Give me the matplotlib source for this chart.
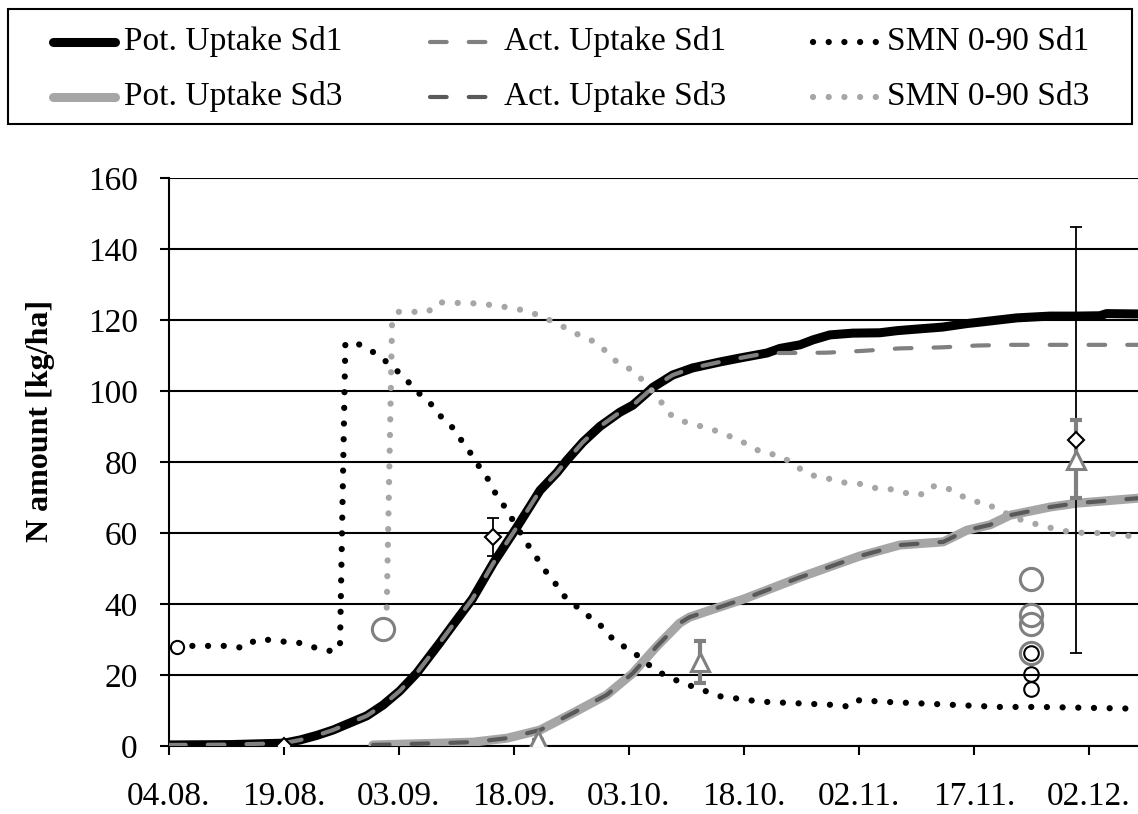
import matplotlib.pyplot as plt
from matplotlib.lines import Line2D
from matplotlib.patches import Rectangle

plt.rcParams['font.family'] = 'Liberation Serif'

W, H = 1138, 814

# x axis in days after 04.08.
tick_days = [0, 15, 30, 45, 60, 75, 90, 105, 120]
tick_labels = ['04.08.', '19.08.', '03.09.', '18.09.', '03.10.',
               '18.10.', '02.11.', '17.11.', '02.12.']
y_ticks = [0, 20, 40, 60, 80, 100, 120, 140, 160]

# potential uptake Sd1
pot1_day = [0, 8, 15, 17.1, 19.3, 21.4, 23.6, 25.8, 27.9, 30.1,
            32.3, 35.3, 37.0, 39.6, 42.3, 45.4, 48.4, 50.6, 51.9, 54.0,
            56.2, 58.8, 60.5, 62.3, 63.1, 65.7, 68.3, 71.9, 74.5, 78.0,
            79.7, 82.3, 84.0, 86.2, 89.2, 92.7, 95.0, 97.9, 100.9, 104.1,
            106.2, 110.6, 114.9, 118.4, 121.4, 122.3, 126.4]
pot1_val = [0.3, 0.4, 0.8, 1.7, 3.0, 4.5, 6.5, 8.5, 11.5, 15.5,
            20.5, 29, 34, 41.5, 51.5, 61.7, 72, 77, 80.5, 85.6,
            90, 94, 96, 99.4, 101, 104.5, 106.5, 108.2, 109.3, 110.7,
            112, 113, 114.4, 115.8, 116.3, 116.4, 117.0, 117.5, 118, 119,
            119.5, 120.6, 121.1, 121.1, 121.2, 121.8, 121.7]

# actual uptake Sd1 (same as potential until ~21.10.)
act1_day = pot1_day[:30] + [80.6, 85.8, 90.5, 95.3, 100.9, 105.3, 109.7, 126.4]
act1_val = pot1_val[:30] + [110.7, 110.8, 111.3, 112.0, 112.3, 112.8, 113.0, 113.0]

# potential / actual uptake Sd3 (lines coincide)
up3_day = [26.6, 35.3, 39.7, 44.1, 48.4, 52.7, 57.1, 60.5, 63.6, 66.6,
           67.9, 75.1, 82.3, 90.1, 95.3, 101.0, 104.1, 107.1, 109.7, 114.9,
           118.4, 126.4]
pot3_val = [0.3, 0.8, 1.1, 2.2, 4.5, 9.3, 14.4, 20.5, 28, 34.6,
            36.3, 41.5, 47.5, 53.5, 56.6, 57.5, 60.8, 62.3, 65, 67.3,
            68.4, 69.8]
act3_val = list(pot3_val)

# SMN 0-90 Sd1
smn1_day = [1.0, 2.9, 7.8, 9.8, 11.3, 13.3, 15.3, 17.2, 19.2, 21.0,
            22.3, 23.0, 24.0, 25.8, 27.4, 29.0, 30.4, 31.7, 33.1, 34.6,
            35.7, 37.2, 38.2, 39.4, 40.4, 41.6, 42.5, 43.6, 44.6, 46.7,
            47.7, 48.8, 50.1, 51.1, 52.6, 54.0, 55.6, 57.0, 58.2, 60.0,
            61.4, 62.9, 64.6, 66.4, 68.0, 71.9, 77.1, 82.3, 87.5, 88.8,
            90.1, 92.7, 98.0, 103.2, 108.4, 113.6, 126.4]
smn1_val = [28, 28.2, 28.2, 27.6, 29.9, 29.9, 29.3, 29, 27.6, 26.8,
            27.6, 113, 114, 112, 110, 107, 104.5, 101.4, 98.3, 95.5,
            92.1, 89.3, 85.9, 82.3, 78.9, 75.2, 71.5, 68, 64.5, 57,
            54, 50, 47, 43, 40.5, 37.5, 35.5, 32.4, 29.3, 27.3,
            25, 22.3, 20, 18.3, 17, 14, 12.5, 12, 11.5, 11,
            13, 12.5, 12, 11.5, 11, 11, 10.5]

# SMN 0-90 Sd3
smn3_day = [28.4, 29.1, 29.9, 31.8, 33.8, 35.1, 37.0, 38.9, 41.0, 42.8,
            44.7, 46.7, 48.5, 50.2, 52.0, 53.7, 55.6, 57.1, 58.4, 60.1,
            61.6, 62.9, 64.2, 65.3, 67.0, 68.7, 70.4, 72.3, 74.1, 75.8,
            77.5, 79.4, 81.1, 82.7, 84.5, 86.3, 88.3, 90.3, 92.1, 94.0,
            96.0, 98.0, 99.3, 101.2, 102.9, 104.7, 106.6, 108.1, 110.0, 111.8,
            113.6, 115.6, 117.5, 119.5, 121.4, 123.4, 125.2, 126.4]
smn3_val = [39, 119.4, 122.3, 122.3, 122.3, 125, 124.8, 124.8, 124.5, 124,
            123.4, 122.5, 121.1, 119.4, 117.5, 115.5, 113.8, 111, 108.2, 106.2,
            103.4, 100.3, 96.9, 93.5, 91.5, 90.4, 89.6, 87.9, 86.5, 84.5,
            82.5, 82, 80, 77.5, 75.8, 75.2, 74.1, 73.8, 72.7, 72.4,
            71.3, 70.7, 73.2, 73, 71, 69, 68.4, 66.5, 64.8, 63.1,
            62.3, 61.1, 60.3, 60, 60, 59.7, 59.2, 59]

# measured values
smn1_obs_day = [1.0, 112.4, 112.4, 112.4]
smn1_obs_val = [28, 26.3, 20.3, 16.1]
smn3_obs_day = [27.9, 112.4, 112.4, 112.4, 112.4]
smn3_obs_val = [33, 47, 37, 34.4, 26.2]
upt1_obs_day = [15.0, 42.3, 118.3]
upt1_obs_val = [0.0, 58.9, 86.2]
upt1_obs_lo = [0.0, 5.4, 60.0]
upt1_obs_hi = [0.0, 5.3, 60.0]
upt3_obs_day = [48.1, 69.3, 118.3]
upt3_obs_val = [1.7, 23.7, 80.6]
upt3_obs_lo = [0.0, 6.0, 10.7]
upt3_obs_hi = [0.0, 5.8, 11.2]

fig = plt.figure(figsize=(W / 100, H / 100), dpi=100)
ax = fig.add_axes([169 / W, 68 / H, (W - 169) / W, (746 - 178) / H])

dot = (0, (0.01, 2.5))
dash = (0, (4, 5.3))

ax.plot(pot1_day, pot1_val, color='black', lw=6.5, solid_capstyle='round',
        solid_joinstyle='round', zorder=3)
ax.plot(act1_day, act1_val, color='#808080', lw=3, ls=dash,
        dash_capstyle='round', zorder=3.1)
ax.plot(up3_day, pot3_val, color='#a6a6a6', lw=6.5, solid_capstyle='round',
        solid_joinstyle='round', zorder=3.2)
ax.plot(up3_day, act3_val, color='#595959', lw=3, ls=dash,
        dash_capstyle='round', zorder=3.3)
ax.plot(smn1_day, smn1_val, color='black', lw=4.5, ls=dot,
        dash_capstyle='round', zorder=3.4)
ax.plot(smn3_day, smn3_val, color='#a6a6a6', lw=4.5, ls=dot,
        dash_capstyle='round', zorder=3.5)

# observations
ax.plot(smn1_obs_day[:1], smn1_obs_val[:1], 'o', ms=9.5, mfc='white',
        mec='black', mew=1.5, zorder=6)
ax.plot(smn1_obs_day[1:], smn1_obs_val[1:], 'o', ms=10.5, mfc='none',
        mec='black', mew=1.5, zorder=6)
ax.plot(smn3_obs_day[:1], smn3_obs_val[:1], 'o', ms=16, mfc='white',
        mec='#808080', mew=2.2, zorder=6)
ax.plot(smn3_obs_day[1:], smn3_obs_val[1:], 'o', ms=16, mfc='none',
        mec='#808080', mew=2.2, zorder=6.1)

ax.errorbar(upt1_obs_day, upt1_obs_val, yerr=[upt1_obs_lo, upt1_obs_hi],
            fmt='none', ecolor='black', elinewidth=1.3, capsize=4.5,
            capthick=1.3, zorder=5)
ax.errorbar(upt3_obs_day, upt3_obs_val, yerr=[upt3_obs_lo, upt3_obs_hi],
            fmt='none', ecolor='#808080', elinewidth=3, capsize=4,
            capthick=3, zorder=5.5)
ax.plot(upt3_obs_day, upt3_obs_val, '^', ms=13, mfc='white', mec='#808080',
        mew=2.2, zorder=6.5)
ax.plot(upt1_obs_day, upt1_obs_val, 'D', ms=8, mfc='white', mec='black',
        mew=1.5, zorder=7)

# axes styling
ax.set_xlim(0, 126.4)
ax.set_ylim(0, 160)
ax.set_xticks(tick_days)
ax.set_xticklabels(tick_labels)
ax.set_yticks(y_ticks)
ax.yaxis.grid(True, color='black', lw=1.5)
ax.set_axisbelow(True)
for s in ['top', 'right']:
    ax.spines[s].set_visible(False)
for s in ['left', 'bottom']:
    ax.spines[s].set_linewidth(1.5)
    ax.spines[s].set_zorder(2.5)
ax.tick_params(axis='x', direction='out', length=6.5, width=1.5, pad=19,
               labelsize=24)
ax.tick_params(axis='y', direction='out', length=6.5, width=1.5, pad=16,
               labelsize=24)
ax.set_ylabel('N amount [kg/ha]', fontsize=23, fontweight='bold')
ax.yaxis.set_label_coords((55 - 169) / (W - 169), (746 - 421) / (746 - 178))


# legend drawn in figure pixels
def fx(x):
    return x / W


def fy(y):
    return 1 - y / H


fig.add_artist(Rectangle((fx(8), fy(124)), fx(1132) - fx(8), fy(9) - fy(124),
                         transform=fig.transFigure, fill=False, lw=1.5,
                         ec='black'))

entries = [
    (dict(color='black', lw=6.5, solid_capstyle='round'), 'Pot. Uptake Sd1', 53, 115, 124, 0),
    (dict(color='#808080', lw=3, ls=dash, dash_capstyle='round'), 'Act. Uptake Sd1', 430, 486, 504, 0),
    (dict(color='black', lw=4.5, ls=dot, dash_capstyle='round'), 'SMN 0-90 Sd1', 813, 878, 887, 0),
    (dict(color='#a6a6a6', lw=6.5, solid_capstyle='round'), 'Pot. Uptake Sd3', 53, 115, 124, 1),
    (dict(color='#595959', lw=3, ls=dash, dash_capstyle='round'), 'Act. Uptake Sd3', 430, 486, 504, 1),
    (dict(color='#a6a6a6', lw=4.5, ls=dot, dash_capstyle='round'), 'SMN 0-90 Sd3', 813, 878, 887, 1),
]
row_line = [42, 97]
row_text = [50, 105]
for style, label, x0, x1, xt, row in entries:
    fig.add_artist(Line2D([fx(x0), fx(x1)], [fy(row_line[row])] * 2,
                          transform=fig.transFigure, **style))
    fig.text(fx(xt), fy(row_text[row]), label, fontsize=24, va='baseline',
             ha='left')

fig.savefig('out.png', dpi=100)
